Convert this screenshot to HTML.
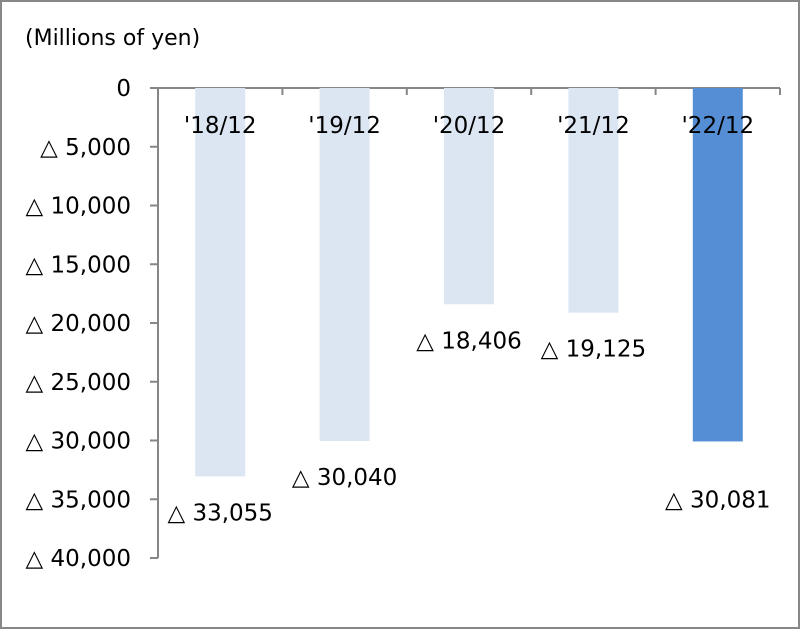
<!DOCTYPE html>
<html><head><meta charset="utf-8"><style>
body{margin:0;background:#fff}
svg{display:block;font-family:"DejaVu Sans","Liberation Sans",sans-serif}
</style></head><body>
<svg id="chart" width="801" height="630">
<rect x="1" y="1" width="798" height="627" fill="#fff" stroke="#878787" stroke-width="2"/>
<text x="25" y="45" font-size="22" fill="#000">(Millions of yen)</text>
<g id="grid"></g><g id="bars"></g><g id="labels"></g>
</svg>
<script>
const categories=["'18/12","'19/12","'20/12","'21/12","'22/12"];
const values=[33055,30040,18406,19125,30081];
const tickValues=[0,5000,10000,15000,20000,25000,30000,35000,40000];
const tickLabels=["0","△ 5,000","△ 10,000","△ 15,000","△ 20,000","△ 25,000","△ 30,000","△ 35,000","△ 40,000"];
const valueLabels=["△ 33,055","△ 30,040","△ 18,406","△ 19,125","△ 30,081"];
const NS="http://www.w3.org/2000/svg";
const x0=158,x1=780,y0=88,y1=558,maxV=40000;
const y=v=>y0+(v/maxV)*(y1-y0);
const band=(x1-x0)/categories.length;
const xc=i=>x0+band*(i+0.5);
function mk(tag,attrs,parent){const e=document.createElementNS(NS,tag);for(const k in attrs)e.setAttribute(k,attrs[k]);document.getElementById(parent).appendChild(e);return e;}
const bw=50;
values.forEach((v,i)=>{
 const r=mk('rect',{x:xc(i)-bw/2,y:y0,width:bw,height:y(v)-y0,fill:i===values.length-1?'#558ed5':'#dce6f2'},'bars');
 
 
 const off=i===values.length-1?58:36;
 const t=mk('text',{x:xc(i),y:y(v)+off+8,'font-size':23,'text-anchor':'middle'},'labels');
 t.textContent=valueLabels[i];
 
 
 const c=mk('text',{x:xc(i),y:133,'font-size':23,'text-anchor':'middle'},'labels');
 c.textContent=categories[i];
 
 
});
tickValues.forEach((v,i)=>{
 const tk=mk('line',{x1:150,x2:x0,y1:y(v),y2:y(v),stroke:'#868686','stroke-width':2},'grid');
 
 
 const t=mk('text',{x:131,y:y(v)+8,'font-size':23,'text-anchor':'end'},'grid');
 t.textContent=tickLabels[i];
 
 
});
for(let i=1;i<=categories.length;i++){
 const ct=mk('line',{x1:x0+band*i,x2:x0+band*i,y1:y0,y2:y0+7,stroke:'#868686','stroke-width':2},'grid');
 
 
}
const ya=mk('line',{x1:x0,x2:x0,y1:y0,y2:y1,stroke:'#868686','stroke-width':2},'grid');


const xa=mk('line',{x1:150,x2:x1,y1:y0,y2:y0,stroke:'#868686','stroke-width':2},'grid');


</script>
</body></html>
